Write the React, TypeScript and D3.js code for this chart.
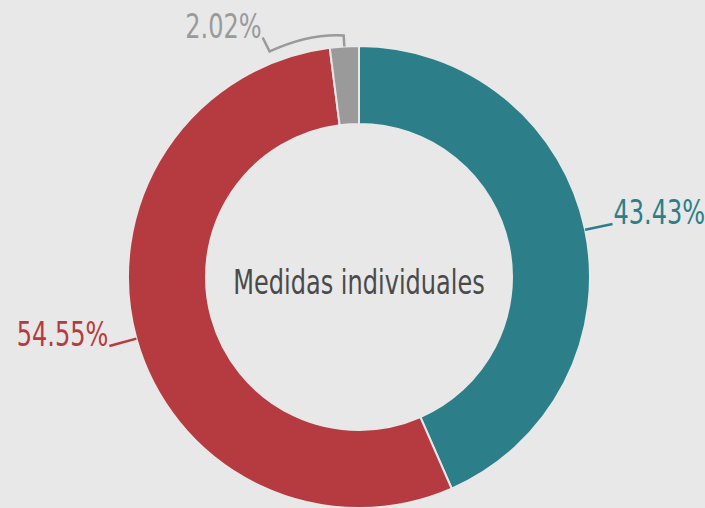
import { useMemo } from 'react';
import * as d3 from 'd3';

const categories = ['Teal', 'Rojo', 'Gris'];
const values = [43.43, 54.55, 2.02];
const labels = ['43.43%', '54.55%', '2.02%'];
const colors = ['#2c7f89', '#b53b41', '#9a9a9a'];
const centerLabel = 'Medidas individuales';

const W = 705;
const H = 508;
const cx = 359;
const cy = 277;
const outerR = 231;
const innerR = 153;
const FONT = "'Liberation Sans Narrow', 'DejaVu Sans Condensed', 'Roboto', sans-serif";
const NARROW = 0.81; // squeeze the fallback font to the narrow look of the original

const App = () => {
  const arcs = useMemo(() => {
    const pie = d3.pie<number>().sort(null).value(d => d);
    return pie(values);
  }, []);

  const arcGen = d3.arc<d3.PieArcDatum<number>>().innerRadius(innerR).outerRadius(outerR);

  const pt = (angle: number, r: number) => [Math.sin(angle) * r, -Math.cos(angle) * r];

  return (
    <svg width={W} height={H} style={{ display: 'block', position: 'absolute', left: 0, top: 0, background: '#e7e8e7' }}>
      <rect width={W} height={H} fill="#e7e8e7" />
      <g transform={`translate(${cx},${cy})`}>
        {arcs.map((a, i) => (
          <path key={categories[i]} d={arcGen(a) || undefined} fill={colors[i]} stroke="#e7e8e7" strokeWidth={2} />
        ))}

        {arcs.map((a, i) => {
          const mid = (a.startAngle + a.endAngle) / 2;
          const [x0, y0] = pt(mid, outerR);
          if (i === 2) {
            // small slice: bent leader to the upper left
            const [x1, y1] = pt(mid, outerR + 11);
            const d = `M${x0},${y0}L${x1},${y1}Q${x1 - 35},${y1 - 2} ${x1 - 74},${y1 + 16}L${x1 - 81},${y1 + 2}`;
            return (
              <g key={categories[i]}>
                <path d={d} fill="none" stroke={colors[i]} strokeWidth={2.5} />
                <text
                  transform={`translate(${x1 - 82},${y1 + 3}) scale(${NARROW},1)`}
                  textAnchor="end"
                  fill={colors[i]}
                  fontSize={33}
                  fontFamily={FONT}
                >
                  {labels[i]}
                </text>
              </g>
            );
          }
          const [x1, y1] = pt(mid, outerR + 28);
          const right = x1 > 0;
          return (
            <g key={categories[i]}>
              <line x1={x0} y1={y0} x2={x1} y2={y1} stroke={colors[i]} strokeWidth={2.5} />
              <text
                transform={`translate(${right ? x1 + 1 : x1 - 1},${y1}) scale(${NARROW},1)`}
                textAnchor={right ? 'start' : 'end'}
                fill={colors[i]}
                fontSize={33}
                fontFamily={FONT}
              >
                {labels[i]}
              </text>
            </g>
          );
        })}

        <text
          transform={`translate(0,17) scale(${NARROW},1)`}
          textAnchor="middle"
          fill="#4a4a4a"
          fontSize={33}
          fontFamily={FONT}
        >
          {centerLabel}
        </text>
      </g>
    </svg>
  );
};

export default App;
